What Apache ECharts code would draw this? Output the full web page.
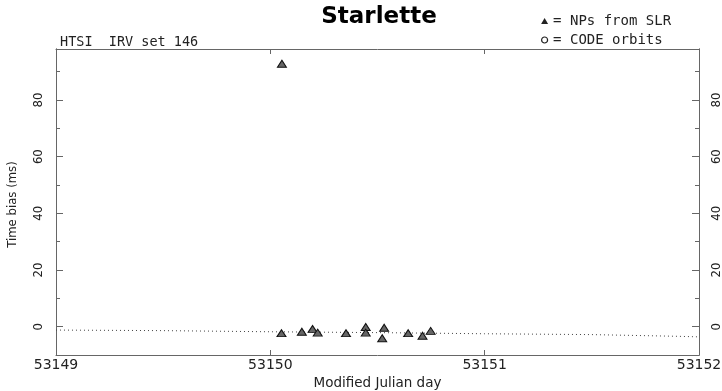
<!DOCTYPE html>
<html>
<head>
<meta charset="utf-8">
<script src="https://cdn.jsdelivr.net/npm/echarts@6/dist/echarts.min.js"></script>
<style>
  html, body { margin: 0; padding: 0; background: #fff; }
  #chart { width: 722px; height: 391px; }
</style>
</head>
<body>
<div id="chart"></div>
<script>
// normal points from SLR: [MJD, time bias in ms]
const npMjd = [53150.052, 53150.147, 53150.197, 53150.221, 53150.353, 53150.445, 53150.445,
  53150.531, 53150.522, 53150.643, 53150.710, 53150.748, 53150.054];
const npBias = [-2.3, -1.8, -0.8, -2.1, -2.3, -0.1, -2.1, -0.4, -4.1, -2.3, -3.2, -1.5, 92.8];

// CODE orbits reference (dotted line)
const codeMjd = [53149.0, 53149.5, 53150.0, 53150.5, 53151.0, 53151.5, 53151.9, 53152.0];
const codeBias = [-1.2, -1.4, -1.8, -2.1, -2.5, -2.8, -3.4, -3.6];

const majorTicks = [0, 20, 40, 60, 80];
const minorTicks = [10, 30, 50, 70, 90];

const font = 'DejaVu Sans';
const mono = 'DejaVu Sans Mono';
const narrow = '"Liberation Sans Narrow", "DejaVu Sans Condensed", "Liberation Sans"';
const axisColor = '#666';
const textColor = '#222';

const chart = echarts.init(document.getElementById('chart'));

function yAxisDef(pos, values, len, showLabel) {
  return {
    type: 'value',
    position: pos,
    min: -10,
    max: 98,
    axisLine: { show: true, onZero: false, lineStyle: { color: axisColor, width: 1 } },
    axisTick: { show: true, inside: true, length: len, customValues: values, lineStyle: { color: axisColor } },
    axisLabel: {
      show: showLabel,
      customValues: values,
      rotate: 90,
      margin: 11,
      color: textColor,
      fontFamily: narrow,
      fontSize: 13,
    },
    splitLine: { show: false },
  };
}

const yLeft = yAxisDef('left', majorTicks, 7, true);
yLeft.name = 'Time bias (ms)';
yLeft.nameLocation = 'middle';
yLeft.nameRotate = 90;
yLeft.nameGap = 37;
yLeft.nameTextStyle = { color: textColor, fontFamily: narrow, fontSize: 13, padding: [0, 5, 0, 0] };

const option = {
  animation: false,
  backgroundColor: '#fff',
  title: [
    {
      text: 'Starlette',
      left: 374,
      top: 1,
      textAlign: 'center',
      textStyle: { fontFamily: font, fontSize: 23, fontWeight: 'bold', color: '#000' },
    },
    {
      text: 'HTSI  IRV set 146',
      left: 55,
      top: 30,
      textStyle: { fontFamily: mono, fontSize: 13.5, fontWeight: 'normal', color: textColor },
    },
  ],
  legend: {
    orient: 'vertical',
    left: 536,
    top: 9,
    itemGap: 5,
    itemWidth: 7,
    itemHeight: 6,
    formatter: '= {name}',
    textStyle: { fontFamily: mono, fontSize: 14, color: textColor },
    data: [
      { name: 'NPs from SLR', icon: 'triangle', itemStyle: { color: '#222', borderWidth: 0 } },
      { name: 'CODE orbits', icon: 'circle', itemStyle: { color: '#fff', borderColor: '#222', borderWidth: 1.2 } },
    ],
  },
  grid: { left: 56, right: 23, top: 49, bottom: 36, outerBoundsMode: 'none', containLabel: false },
  xAxis: [
    {
      type: 'value',
      position: 'bottom',
      min: 53149,
      max: 53152,
      interval: 1,
      name: 'Modified Julian day',
      nameLocation: 'middle',
      nameGap: 20,
      nameTextStyle: { color: textColor, fontFamily: font, fontSize: 13.5 },
      axisLine: { show: true, onZero: false, lineStyle: { color: axisColor } },
      axisTick: { show: true, inside: true, length: 5, lineStyle: { color: axisColor } },
      axisLabel: { margin: 3, color: textColor, fontFamily: font, fontSize: 14, formatter: (v) => String(v) },
      splitLine: { show: false },
    },
    {
      type: 'value',
      position: 'top',
      min: 53149,
      max: 53152,
      interval: 1,
      axisLine: { show: true, onZero: false, lineStyle: { color: axisColor } },
      axisTick: { show: true, inside: true, length: 5, lineStyle: { color: axisColor } },
      axisLabel: { show: false },
      splitLine: { show: false },
    },
  ],
  yAxis: [
    yLeft,
    yAxisDef('left', minorTicks, 4, false),
    yAxisDef('right', majorTicks, 7, true),
    yAxisDef('right', minorTicks, 4, false),
  ],
  series: [
    {
      name: 'CODE orbits',
      type: 'line',
      xAxisIndex: 0,
      yAxisIndex: 0,
      data: codeMjd.map((m, i) => [m, codeBias[i]]),
      showSymbol: false,
      symbol: 'none',
      lineStyle: { color: '#444', width: 1, type: [1, 3] },
      z: 1,
    },
    {
      name: 'NPs from SLR',
      type: 'scatter',
      xAxisIndex: 0,
      yAxisIndex: 0,
      data: npMjd.map((m, i) => [m, npBias[i]]),
      symbol: 'triangle',
      symbolSize: [9, 7],
      itemStyle: { color: '#666', borderColor: '#111', borderWidth: 1, opacity: 1 },
      z: 2,
    },
  ],
};

chart.setOption(option);

window.addEventListener('resize', () => {
  chart.resize();
});
</script>
</body>
</html>
